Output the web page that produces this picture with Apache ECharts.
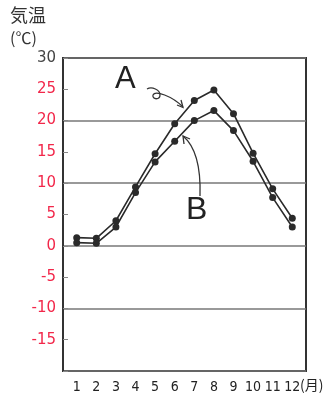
<!DOCTYPE html>
<html><head><meta charset="utf-8">
<script src="https://cdn.jsdelivr.net/npm/echarts@6/dist/echarts.min.js"></script>
<style>html,body{margin:0;padding:0;background:#fff}#c{width:332px;height:401px}</style>
</head><body><div id="c"></div>
<script>
const months = [1,2,3,4,5,6,7,8,9,10,11,12];
const seriesA = [1.3, 1.2, 4.0, 9.4, 14.7, 19.5, 23.2, 24.9, 21.1, 14.8, 9.1, 4.4];
const seriesB = [0.5, 0.4, 3.0, 8.5, 13.4, 16.7, 20.0, 21.6, 18.4, 13.5, 7.7, 3.0];

const chart = echarts.init(document.getElementById('c'), null, {renderer:'canvas'});
const lineStyle = {color:'#2a2a2a', width:1.6};
const itemStyle = {color:'#2a2a2a'};
const ann = {stroke:'#333', lineWidth:1.3, fill:null};
function bz(x1,y1,cpx1,cpy1,cpx2,cpy2,x2,y2){
  return {type:'bezierCurve', shape:{x1,y1,cpx1,cpy1,cpx2,cpy2,x2,y2}, style:ann, z:10};
}
function pl(points){ return {type:'polyline', shape:{points}, style:ann, z:10}; }
chart.setOption({
  animation:false,
  backgroundColor:'#fff',
  grid:{left:63, right:26, top:58, bottom:30, show:true, borderColor:'#333', borderWidth:2, backgroundColor:'transparent'},
  xAxis:{type:'value', min:0.3, max:12.7,
    axisLine:{show:false}, axisTick:{show:false}, splitLine:{show:false},
    axisLabel:{customValues:months, margin:9, color:'#222', fontSize:14, fontFamily:'DejaVu Sans Condensed', formatter:v=>String(v)}
  },
  yAxis:[
    {type:'value', min:-20, max:30, interval:5,
     axisLine:{show:true, lineStyle:{color:'#333', width:2}},
     axisTick:{show:true, inside:true, length:5, lineStyle:{color:'#888'}},
     splitLine:{show:false},
     axisLabel:{margin:7, fontSize:15, fontFamily:'DejaVu Sans',
       formatter:v=> v===-20 ? '' : String(v),
       color:v=> Number(v)===30 ? '#444' : '#f2274a'}
    },
    {type:'value', min:-20, max:30, interval:10, position:'left',
     axisLine:{show:false}, axisTick:{show:false}, axisLabel:{show:false},
     splitLine:{show:true, lineStyle:{color:'#777', width:1.5}}
    }
  ],
  graphic:[
    {type:'text', left:10, top:6, style:{text:'気温', fontSize:18, fontFamily:'Noto Sans CJK JP', fill:'#333'}},
    {type:'text', left:10, top:30, style:{text:'(℃)', fontSize:16, fontFamily:'Noto Sans CJK JP', fill:'#333'}},
    {type:'text', left:300, top:378, style:{text:'(月)', fontSize:14, fontFamily:'Noto Sans CJK JP', fill:'#222'}},
    {type:'text', left:115, top:64, style:{text:'A', fontSize:31, fontFamily:'Liberation Sans', fill:'#222'}},
    {type:'text', left:186, top:194, style:{text:'B', fontSize:32, fontFamily:'Liberation Sans', fill:'#222'}},
    bz(147,89, 152,86, 160,90, 160,95),
    bz(160,95, 160,100, 152,100, 153,95),
    bz(153,95, 155,90, 172,96, 183,107),
    pl([[177,105],[183,107.5],[181,100]]),
    bz(200,196, 201,165, 195,146, 183,136),
    pl([[184,144],[183,136],[190,139]])
  ],
  series:[
    {type:'line', name:'A', data:months.map((m,i)=>[m,seriesA[i]]), symbol:'circle', symbolSize:7, lineStyle, itemStyle, z:3},
    {type:'line', name:'B', data:months.map((m,i)=>[m,seriesB[i]]), symbol:'circle', symbolSize:7, lineStyle, itemStyle, z:3}
  ]
});
</script></body></html>
